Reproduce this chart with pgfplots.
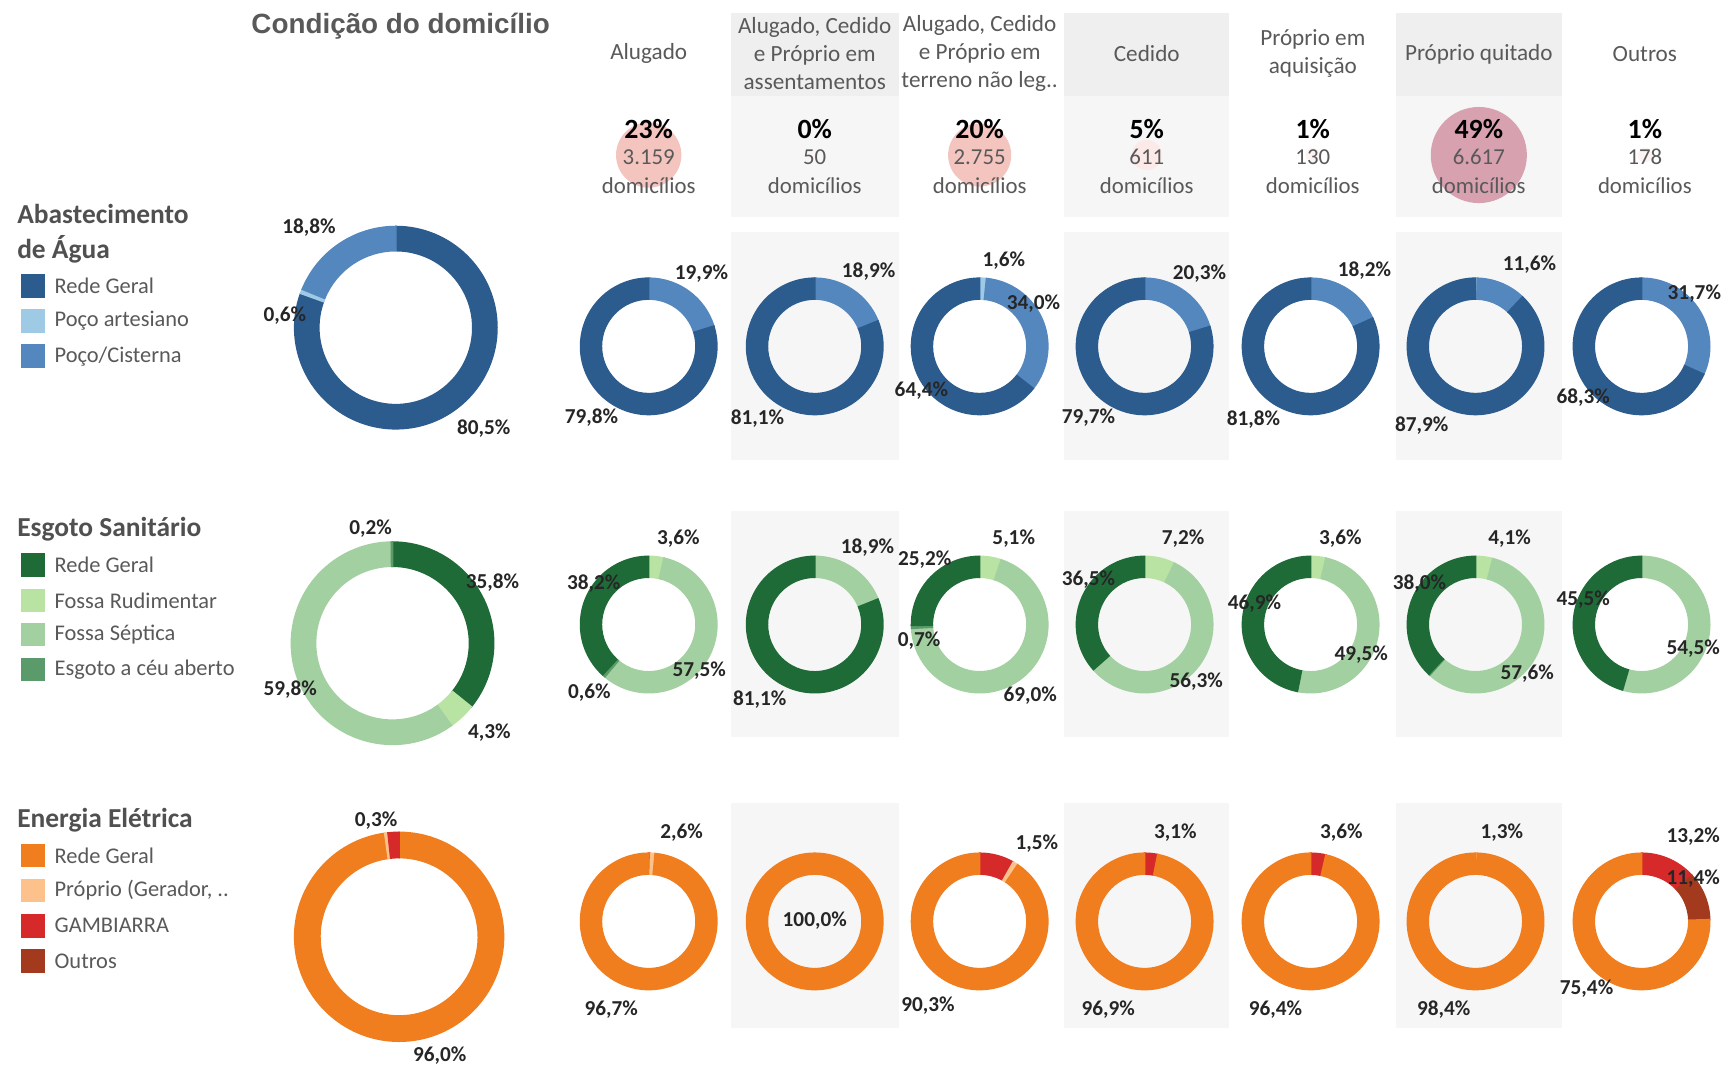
\documentclass[border=0pt]{standalone}
\usepackage{fontspec}
\setmainfont{Carlito}
\newfontfamily\titlefont{Liberation Sans}
\usepackage{pgfplots}
\pgfplotsset{compat=1.18}

% water
\definecolor{wRede}{HTML}{2C5B8D}
\definecolor{wArt}{HTML}{9ECAE6}
\definecolor{wCis}{HTML}{5587BF}
% sewage
\definecolor{sRede}{HTML}{1F6B38}
\definecolor{sRud}{HTML}{B8E3A3}
\definecolor{sSep}{HTML}{A3D0A0}
\definecolor{sCeu}{HTML}{5B9A6B}
% energy
\definecolor{eRede}{HTML}{F07D1E}
\definecolor{eProp}{HTML}{FDC28C}
\definecolor{eGam}{HTML}{D62A2A}
\definecolor{eOut}{HTML}{A43A1D}
% bubbles
\definecolor{bA}{HTML}{F4C4BF}
\definecolor{bB}{HTML}{D8A1B0}
\definecolor{bLow}{HTML}{FBEAE8}
\definecolor{bMin}{HTML}{FDF3F2}
% text and panels
\definecolor{txt}{HTML}{595959}
\definecolor{labc}{HTML}{262626}
\definecolor{hdr}{HTML}{EFEFEF}
\definecolor{pnl}{HTML}{F6F6F6}

\pgfdeclareplotmark{nothing}{}

\tikzset{
  hdrf/.style={font=\fontsize{6}{7.25}\selectfont, text=txt, inner sep=0pt, align=center},
  cntp/.style={font=\fontsize{7.2}{8}\selectfont\bfseries, text=black, inner sep=0pt},
  cntn/.style={font=\fontsize{5.9}{7}\selectfont, text=txt, inner sep=0pt},
  legt/.style={font=\fontsize{7.1}{8.5}\selectfont\bfseries, text=txt!90!black, inner sep=0pt, anchor=west},
  legi/.style={font=\fontsize{5.8}{7}\selectfont, text=txt, inner sep=0pt, anchor=west},
  pctf/.style={font=\fontsize{5.5}{6}\selectfont\bfseries, text=labc, inner sep=0pt},
}

% 1 axis unit = 0.1 mm
\pgfplotsset{
  ring/.style={only marks, scatter, mark=nothing,
    visualization depends on={\thisrow{ro} \as \segRo},
    visualization depends on={\thisrow{ri} \as \segRi},
    visualization depends on={\thisrow{a} \as \segA},
    visualization depends on={\thisrow{b} \as \segB},
    visualization depends on={value \thisrow{col} \as \segCol},
    scatter/@pre marker code/.code={%
      \pgfmathsetmacro\angA{90-3.6*\segA}%
      \pgfmathsetmacro\angB{90-3.6*\segB}%
      \pgfmathsetlengthmacro\RO{\segRo*0.1mm}%
      \pgfmathsetlengthmacro\RI{\segRi*0.1mm}%
      \fill[\segCol] (\angA:\RO) arc[start angle=\angA, end angle=\angB, radius=\RO]
        -- (\angB:\RI) arc[start angle=\angB, end angle=\angA, radius=\RI] -- cycle;
    },
    scatter/@post marker code/.code={}},
  bubble/.style={only marks, scatter, mark=nothing,
    visualization depends on={\thisrow{r} \as \bubR},
    visualization depends on={value \thisrow{col} \as \bubCol},
    scatter/@pre marker code/.code={%
      \pgfmathsetlengthmacro\RR{\bubR*0.1mm}%
      \fill[\bubCol] (0,0) circle[radius=\RR];
    },
    scatter/@post marker code/.code={}},
  swatch/.style={only marks, scatter, mark=nothing,
    visualization depends on={value \thisrow{col} \as \swCol},
    scatter/@pre marker code/.code={\fill[\swCol] (-1mm,-1mm) rectangle (1mm,1mm);},
    scatter/@post marker code/.code={}},
  tlab/.style={only marks, scatter, mark=nothing,
    visualization depends on={value \thisrow{lab} \as \tLab},
    scatter/@pre marker code/.code={\node[#1] at (0,0) {\tLab};},
    scatter/@post marker code/.code={}},
}

\begin{document}
\begin{tikzpicture}
\begin{axis}[
  width=15.68cm, height=9.69cm, scale only axis,
  xmin=0, xmax=1568, ymin=0, ymax=969, y dir=reverse,
  hide axis, clip=false,
]
\path[fill=white] (0,0) rectangle (1568,969);

% shaded columns
\fill[hdr] (665,12) rectangle (818,87);
\fill[hdr] (968,12) rectangle (1118,87);
\fill[hdr] (1270,12) rectangle (1421,87);
\fill[pnl] (665,87) rectangle (818,197);
\fill[pnl] (968,87) rectangle (1118,197);
\fill[pnl] (1270,87) rectangle (1421,197);
\fill[pnl] (665,211) rectangle (818,418);
\fill[pnl] (968,211) rectangle (1118,418);
\fill[pnl] (1270,211) rectangle (1421,418);
\fill[pnl] (665,465) rectangle (818,670);
\fill[pnl] (968,465) rectangle (1118,670);
\fill[pnl] (1270,465) rectangle (1421,670);
\fill[pnl] (665,730) rectangle (818,935);
\fill[pnl] (968,730) rectangle (1118,935);
\fill[pnl] (1270,730) rectangle (1421,935);

% share of households
\addplot[bubble] table {
x y r col
590 141 29 bA
741 141 2 bMin
891 141 28 bA
1043 141 13 bLow
1194 141 6 bMin
1345 141 43 bB
1496 141 6 bMin
};

% counts on top of the bubbles
\addplot[tlab={cntp}] table {
x y lab
590 117 23\%
741 117 0\%
891 117 20\%
1043 117 5\%
1194 117 1\%
1345 117 49\%
1496 117 1\%
};
\addplot[tlab={cntn}] table {
x y lab
590 143 3.159
741 143 50
891 143 2.755
1043 143 611
1194 143 130
1345 143 6.617
1496 143 178
590 169 domicílios
741 169 domicílios
891 169 domicílios
1043 169 domicílios
1194 169 domicílios
1345 169 domicílios
1496 169 domicílios
};

% Abastecimento de Agua
\addplot[ring] table {
x y ro ri a b col
360 298 92 70 0 80.5 wRede
360 298 92 70 80.5 81.2 wArt
360 298 92 70 81.2 100 wCis
590 315 62 43 0 0.3 wArt
590 315 62 43 0.3 20.2 wCis
590 315 62 43 20.2 100 wRede
741 315 62 43 0 18.9 wCis
741 315 62 43 18.9 100 wRede
891 315 62 43 0 1.6 wArt
891 315 62 43 1.6 35.6 wCis
891 315 62 43 35.6 100 wRede
1041 315 62 43 0 20.3 wCis
1041 315 62 43 20.3 100 wRede
1192 315 62 43 0 18.2 wCis
1192 315 62 43 18.2 100 wRede
1342 315 62 43 0 0.5 wArt
1342 315 62 43 0.5 12.1 wCis
1342 315 62 43 12.1 100 wRede
1493 315 62 43 0 31.7 wCis
1493 315 62 43 31.7 100 wRede
};

% Esgoto Sanitario
\addplot[ring] table {
x y ro ri a b col
357 585 92 70 0 35.8 sRede
357 585 92 70 35.8 40.1 sRud
357 585 92 70 40.1 99.8 sSep
357 585 92 70 99.8 100 sCeu
590 568 62 43 0 3.6 sRud
590 568 62 43 3.6 61.1 sSep
590 568 62 43 61.1 61.8 sCeu
590 568 62 43 61.8 100 sRede
741 568 62 43 0 18.9 sSep
741 568 62 43 18.9 100 sRede
891 568 62 43 0 5.1 sRud
891 568 62 43 5.1 74.1 sSep
891 568 62 43 74.1 74.8 sCeu
891 568 62 43 74.8 100 sRede
1041 568 62 43 0 7.2 sRud
1041 568 62 43 7.2 63.5 sSep
1041 568 62 43 63.5 100 sRede
1192 568 62 43 0 3.6 sRud
1192 568 62 43 3.6 53.1 sSep
1192 568 62 43 53.1 100 sRede
1342 568 62 43 0 4.1 sRud
1342 568 62 43 4.1 61.7 sSep
1342 568 62 43 61.7 62.0 sCeu
1342 568 62 43 62.0 100 sRede
1493 568 62 43 0 54.5 sSep
1493 568 62 43 54.5 100 sRede
};

% Energia Eletrica
\addplot[ring] table {
x y ro ri a b col
363 852 95 72 0 97.8 eRede
363 852 95 72 97.8 98.3 eProp
363 852 95 72 98.3 100 eGam
590 838 62 43 0 0.4 eGam
590 838 62 43 0.4 1.5 eProp
590 838 62 43 1.5 100 eRede
741 838 62 43 0 100 eRede
891 838 62 43 0 8.2 eGam
891 838 62 43 8.2 9.4 eProp
891 838 62 43 9.4 100 eRede
1041 838 62 43 0 3.1 eGam
1041 838 62 43 3.1 100 eRede
1192 838 62 43 0 3.6 eGam
1192 838 62 43 3.6 100 eRede
1342 838 62 43 0 0.5 eProp
1342 838 62 43 0.5 100 eRede
1493 838 62 43 0 13.2 eGam
1493 838 62 43 13.2 24.6 eOut
1493 838 62 43 24.6 100 eRede
};

% legend keys
\addplot[swatch] table {
x y col
30 260 wRede
30 292 wArt
30 324 wCis
30 514 sRede
30 546 sRud
30 577 sSep
30 609 sCeu
30 778 eRede
30 810 eProp
30 842 eGam
30 874 eOut
};

% percentage labels
\addplot[tlab={pctf}] table {
x y lab
281 207 18,8\%
259 287 0,6\%
440 390 80,5\%
638 249 19,9\%
538 380 79,8\%
790 247 18,9\%
689 381 81,1\%
913 237 1,6\%
940 276 34,0\%
838 355 64,4\%
1091 249 20,3\%
990 380 79,7\%
1241 246 18,2\%
1140 382 81,8\%
1391 241 11,6\%
1293 387 87,9\%
1541 267 31,7\%
1440 362 68,3\%
337 481 0,2\%
448 530 35,8\%
264 627 59,8\%
445 666 4,3\%
617 490 3,6\%
540 531 38,2\%
636 610 57,5\%
536 630 0,6\%
789 498 18,9\%
691 636 81,1\%
841 509 25,2\%
922 490 5,1\%
836 583 0,7\%
937 633 69,0\%
1076 490 7,2\%
990 527 36,5\%
1088 620 56,3\%
1219 490 3,6\%
1141 549 46,9\%
1238 595 49,5\%
1373 490 4,1\%
1291 531 38,0\%
1389 613 57,6\%
1440 545 45,5\%
1540 590 54,5\%
342 746 0,3\%
400 960 96,0\%
620 757 2,6\%
556 918 96,7\%
741 837 100,0\%
943 767 1,5\%
844 915 90,3\%
1069 757 3,1\%
1008 918 96,9\%
1220 757 3,6\%
1160 918 96,4\%
1366 757 1,3\%
1313 918 98,4\%
1540 761 13,2\%
1540 799 11,4\%
1443 899 75,4\%
};

% title
\node[font=\titlefont\fontsize{7.2}{8.5}\selectfont\bfseries, text=txt, anchor=west, inner sep=0pt] at (228,24) {Condição do domicílio};

% column headers
\node[hdrf] at (590,49) {Alugado};
\node[hdrf] at (741,49) {Alugado, Cedido\\e Próprio em\\assentamentos};
\node[hdrf] at (891,49) {Alugado, Cedido\\e Próprio em\\terreno não leg..};
\node[hdrf] at (1043,49) {Cedido};
\node[hdrf] at (1194,49) {Próprio em\\aquisição};
\node[hdrf] at (1345,49) {Próprio quitado};
\node[hdrf] at (1496,49) {Outros};

% legends
\node[legt] at (15,195) {Abastecimento};
\node[legt] at (15,227) {de Água};
\node[legi] at (49,260) {Rede Geral};
\node[legi] at (49,292) {Poço artesiano};
\node[legi] at (49,324) {Poço/Cisterna};
\node[legt] at (15,481) {Esgoto Sanitário};
\node[legi] at (49,514) {Rede Geral};
\node[legi] at (49,546) {Fossa Rudimentar};
\node[legi] at (49,577) {Fossa Séptica};
\node[legi] at (49,609) {Esgoto a céu aberto};
\node[legt] at (15,746) {Energia Elétrica};
\node[legi] at (49,778) {Rede Geral};
\node[legi] at (49,810) {Próprio (Gerador, ..};
\node[legi] at (49,842) {GAMBIARRA};
\node[legi] at (49,874) {Outros};
\end{axis}
\end{tikzpicture}
\end{document}
